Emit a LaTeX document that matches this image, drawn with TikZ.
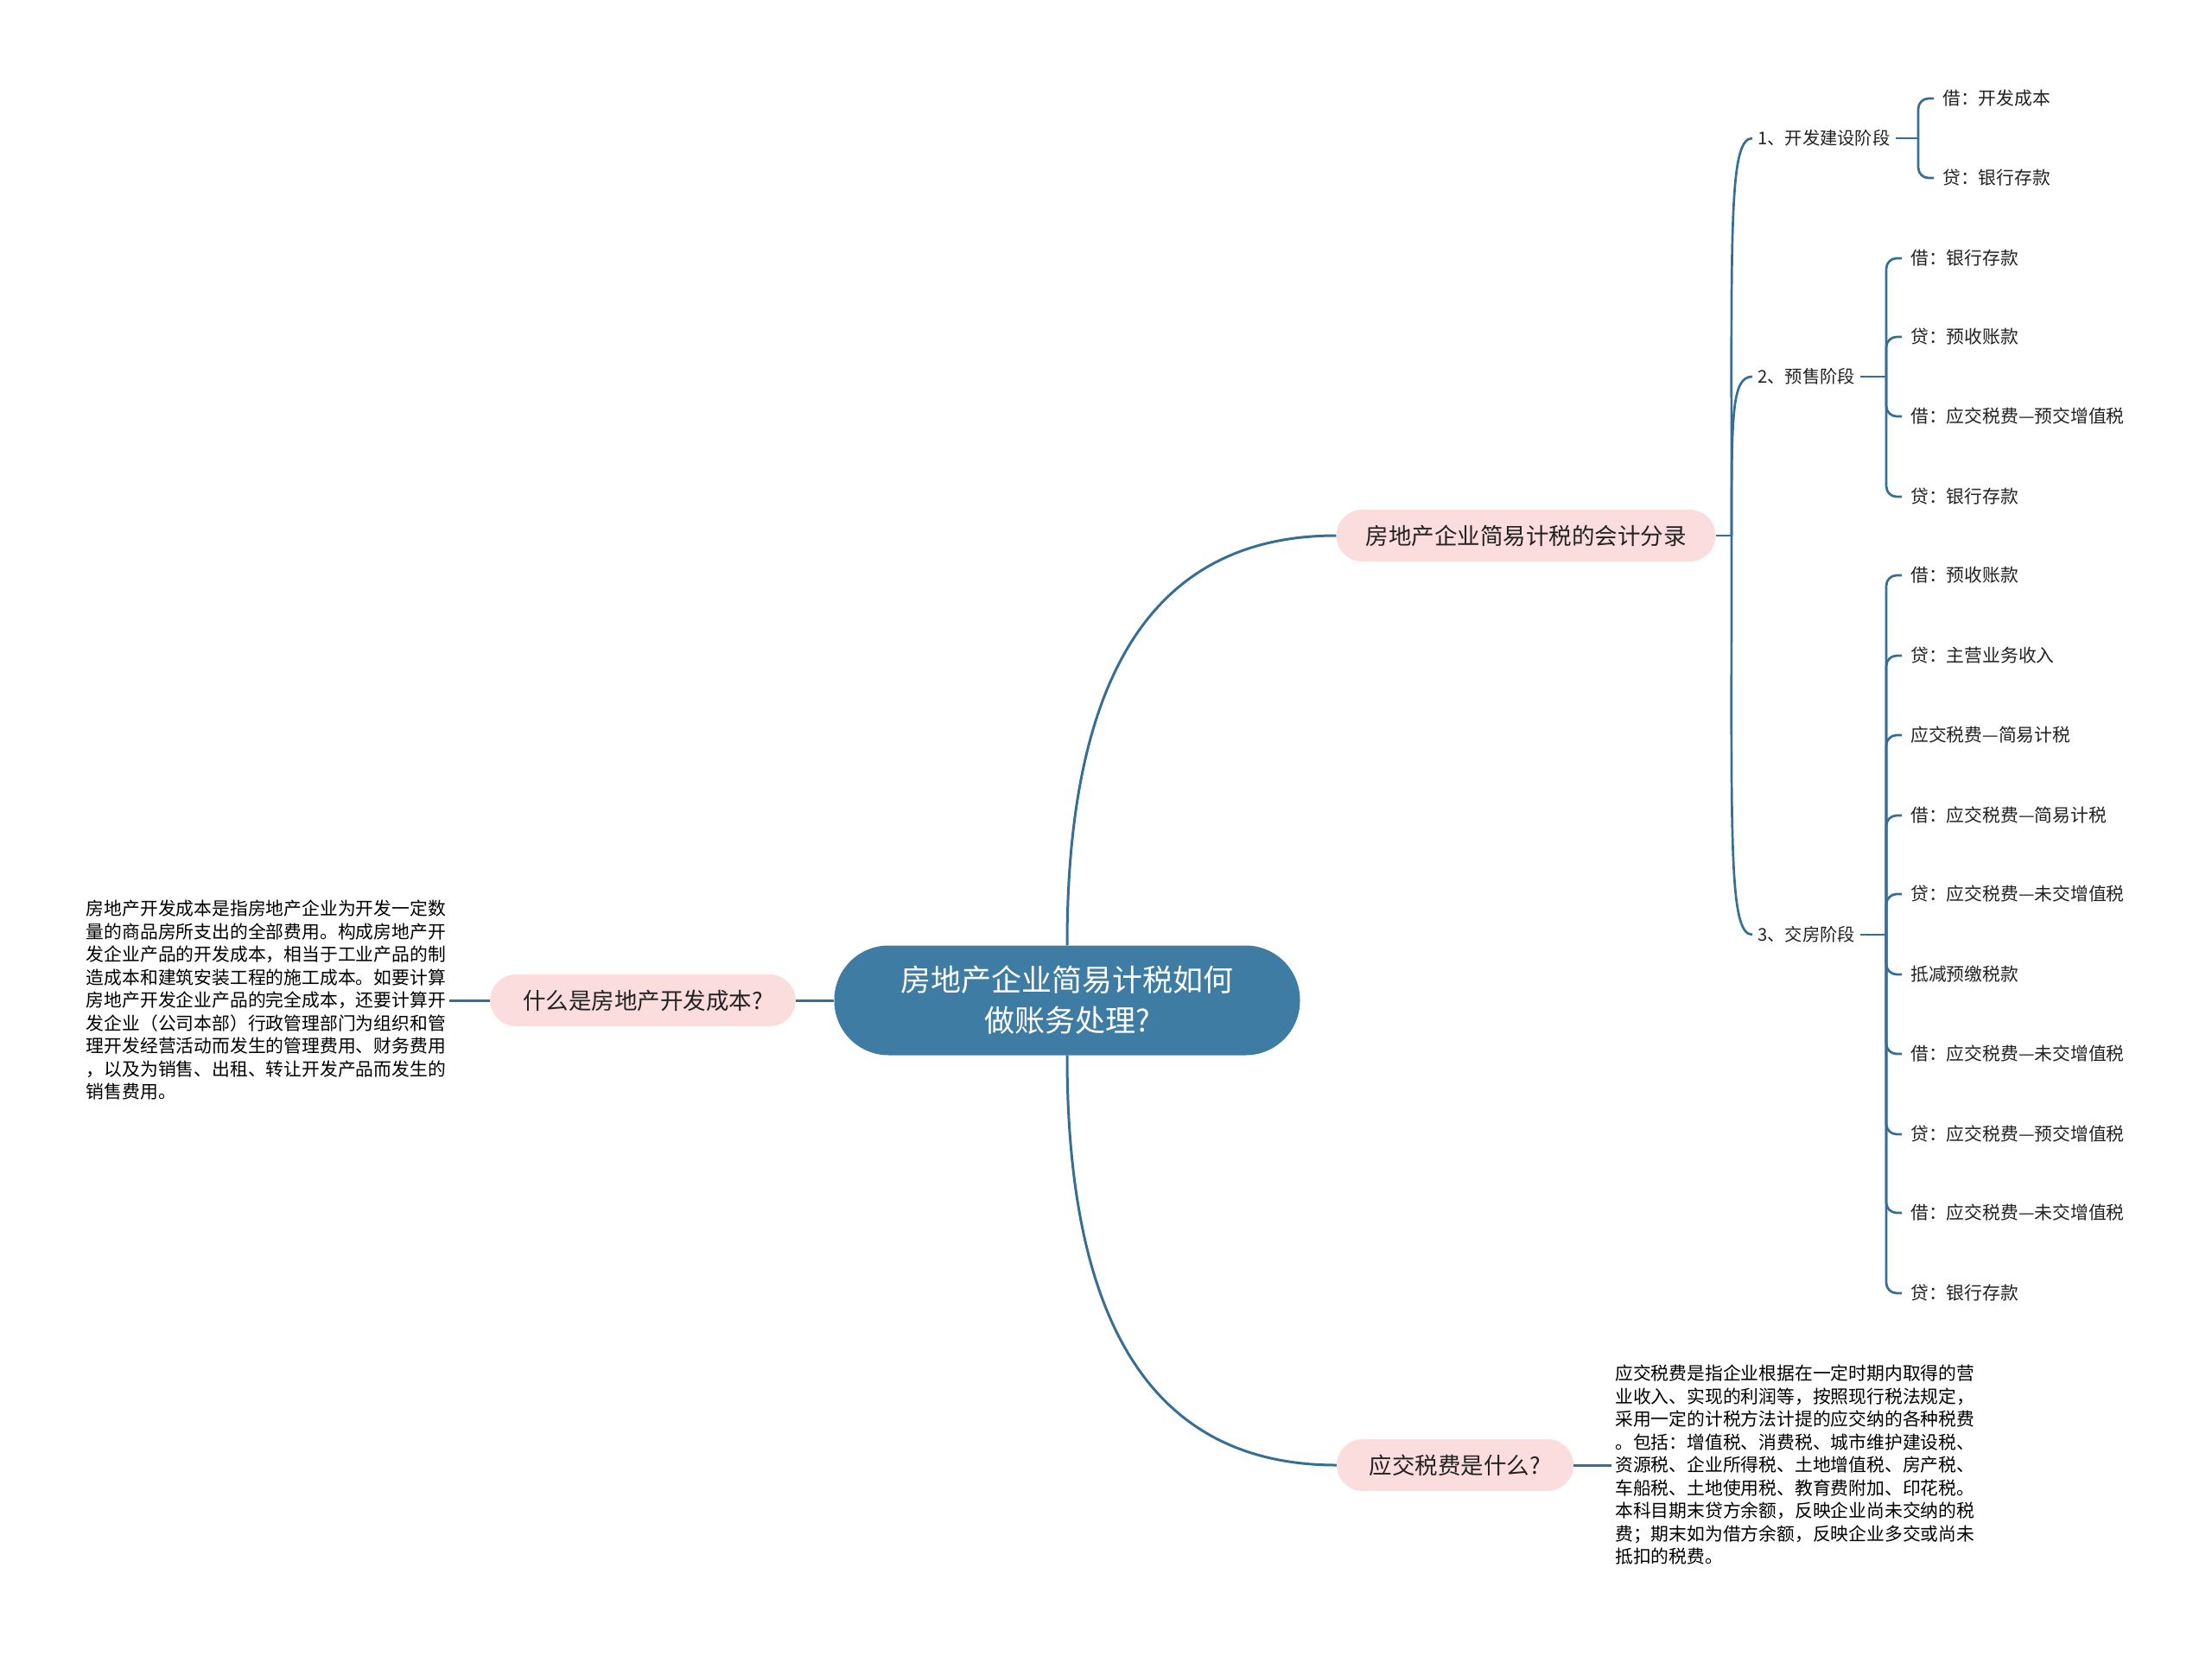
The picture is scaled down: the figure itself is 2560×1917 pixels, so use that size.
\documentclass[tikz,border=0pt]{standalone}
\usepackage{fontspec}
\setmainfont{Noto Sans CJK SC}
\usetikzlibrary{positioning}

\definecolor{topicblue}{RGB}{62,124,164}
\definecolor{linkblue}{RGB}{54,110,148}
\definecolor{subpink}{RGB}{251,221,221}
\definecolor{inkgray}{RGB}{34,34,34}

\begin{document}
\begin{tikzpicture}[x=1pt, y=-1pt,
    root/.style={rectangle, rounded corners=63pt, fill=topicblue, text=white,
        minimum height=127pt, inner xsep=77pt, align=center, font=\fontsize{35}{47}\selectfont},
    topic/.style={rectangle, rounded corners=30pt, fill=subpink, text=inkgray,
        minimum height=60pt, inner xsep=34pt, font=\fontsize{26.5}{32}\selectfont},
    stage/.style={anchor=west, inner xsep=6pt, text=inkgray, font=\fontsize{20.3}{24}\selectfont},
    leaf/.style={anchor=west, inner xsep=10pt, text=inkgray, font=\fontsize{20.8}{24}\selectfont},
    note/.style={inner sep=4pt, align=left, text=black, font=\fontsize{20.8}{26.5}\selectfont},
    link/.style={draw=linkblue, line width=3pt},
    twig/.style={draw=linkblue, line width=2.7pt},
    brace/.style={draw=linkblue, line width=2.7pt, rounded corners=12pt}
]
\useasboundingbox (0,0) rectangle (2560,1917);

% --- Tema central ---
\node[root] (root) at (1235,1158) {房地产企业简易计税如何\\做账务处理?};

% --- Ramas principales ---
\node[topic] (entry) at (1766,620) {房地产企业简易计税的会计分录};
\node[topic, inner xsep=38pt] (cost) at (744,1158) {什么是房地产开发成本?};
\node[topic, inner xsep=38pt] (tax) at (1684,1696) {应交税费是什么?};

% --- Textos explicativos ---
\node[note, anchor=east] (costnote) at (520,1158)
    {房地产开发成本是指房地产企业为开发一定数\\量的商品房所支出的全部费用。构成房地产开\\发企业产品的开发成本，相当于工业产品的制\\造成本和建筑安装工程的施工成本。如要计算\\房地产开发企业产品的完全成本，还要计算开\\发企业（公司本部）行政管理部门为组织和管\\理开发经营活动而发生的管理费用、财务费用\\，以及为销售、出租、转让开发产品而发生的\\销售费用。};
\node[note, anchor=west] (taxnote) at (1865,1696)
    {应交税费是指企业根据在一定时期内取得的营\\业收入、实现的利润等，按照现行税法规定，\\采用一定的计税方法计提的应交纳的各种税费\\。包括：增值税、消费税、城市维护建设税、\\资源税、企业所得税、土地增值税、房产税、\\车船税、土地使用税、教育费附加、印花税。\\本科目期末贷方余额，反映企业尚未交纳的税\\费；期末如为借方余额，反映企业多交或尚未\\抵扣的税费。};

% --- Etapas ---
\node[stage] (s1) at (2028,160) {1、开发建设阶段};
\node[stage] (s2) at (2028,436) {2、预售阶段};
\node[stage] (s3) at (2028,1082) {3、交房阶段};

\coordinate (hub) at (2004,620);
\coordinate (s1bus) at (2220,160);
\coordinate (s2bus) at (2183,436);
\coordinate (s3bus) at (2183,1082);

% --- Asientos ---
\node[leaf] (a1) at (2238,114) {借：开发成本};
\node[leaf] (a2) at (2238,206) {贷：银行存款};

\node[leaf] (b1) at (2201,299) {借：银行存款};
\node[leaf] (b2) at (2201,390) {贷：预收账款};
\node[leaf] (b3) at (2201,482) {借：应交税费—预交增值税};
\node[leaf] (b4) at (2201,575) {贷：银行存款};

\node[leaf] (c1) at (2201,666) {借：预收账款};
\node[leaf] (c2) at (2201,759) {贷：主营业务收入};
\node[leaf] (c3) at (2201,851) {应交税费—简易计税};
\node[leaf] (c4) at (2201,944) {借：应交税费—简易计税};
\node[leaf] (c5) at (2201,1035) {贷：应交税费—未交增值税};
\node[leaf] (c6) at (2201,1128) {抵减预缴税款};
\node[leaf] (c7) at (2201,1220) {借：应交税费—未交增值税};
\node[leaf] (c8) at (2201,1313) {贷：应交税费—预交增值税};
\node[leaf] (c9) at (2201,1404) {借：应交税费—未交增值税};
\node[leaf] (c10) at (2201,1497) {贷：银行存款};

% --- Conexiones del tema central ---
\draw[link] (root.north) .. controls +(0,-330) and +(-200,0) .. (entry.west);
\draw[link] (root.south) .. controls +(0,330) and +(-200,0) .. (tax.west);
\draw[link] (root.west) -- (cost.east);
\draw[link] (cost.west) -- (costnote.east);
\draw[link] (tax.east) -- (taxnote.west);

% --- Conexiones a las etapas ---
\draw[twig] (entry.east) -- (hub);
\draw[twig] (hub) .. controls +(0,-350) and +(-28,0) .. (s1.west);
\draw[twig] (hub) .. controls +(0,-140) and +(-24,0) .. (s2.west);
\draw[twig] (hub) .. controls +(0,350) and +(-28,0) .. (s3.west);

% --- Llaves de asientos ---
\draw[twig] (s1.east) -- (s1bus);
\draw[brace] (s1bus) |- (a1.west);
\draw[brace] (s1bus) |- (a2.west);

\draw[twig] (s2.east) -- (s2bus);
\draw[brace] (s2bus) |- (b1.west);
\draw[brace] (s2bus) |- (b2.west);
\draw[brace] (s2bus) |- (b3.west);
\draw[brace] (s2bus) |- (b4.west);

\draw[twig] (s3.east) -- (s3bus);
\draw[brace] (s3bus) |- (c1.west);
\draw[brace] (s3bus) |- (c2.west);
\draw[brace] (s3bus) |- (c3.west);
\draw[brace] (s3bus) |- (c4.west);
\draw[brace] (s3bus) |- (c5.west);
\draw[brace] (s3bus) |- (c6.west);
\draw[brace] (s3bus) |- (c7.west);
\draw[brace] (s3bus) |- (c8.west);
\draw[brace] (s3bus) |- (c9.west);
\draw[brace] (s3bus) |- (c10.west);

\end{tikzpicture}
\end{document}
